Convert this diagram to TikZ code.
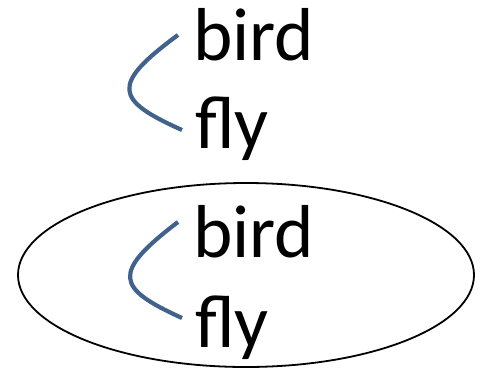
\documentclass[tikz,border=0pt]{standalone}
\usepackage{fontspec}
\setmainfont{Carlito}
\usetikzlibrary{shapes.geometric}
\definecolor{linkblue}{RGB}{65,98,140}
\begin{document}
\begin{tikzpicture}[x=1pt,y=-1pt,
  word/.style={anchor=base west,inner sep=0pt,font=\fontsize{75}{75}\selectfont},
  link/.style={draw=linkblue,line width=4.2pt},
  ring/.style={draw=black,line width=1.8pt}]
\useasboundingbox (0,0) rectangle (481,370);
% top group
\node[word] (b1) at (193,60) {bird};
\node[word] (f1) at (195,148) {fly};
\coordinate (s1) at (178,35);
\coordinate (e1) at (182,130);
\draw[link] (s1) .. controls (110,85) and (115,100) .. (e1);
% bottom group
\node[ring,ellipse,minimum width=456pt,minimum height=184pt,inner sep=0pt] (ov) at (246,275) {};
\node[word] (b2) at (193,257) {bird};
\node[word] (f2) at (195,347) {fly};
\coordinate (s2) at (178,222);
\coordinate (e2) at (182,318);
\draw[link] (s2) .. controls (111,273) and (116,288) .. (e2);
\end{tikzpicture}
\end{document}
